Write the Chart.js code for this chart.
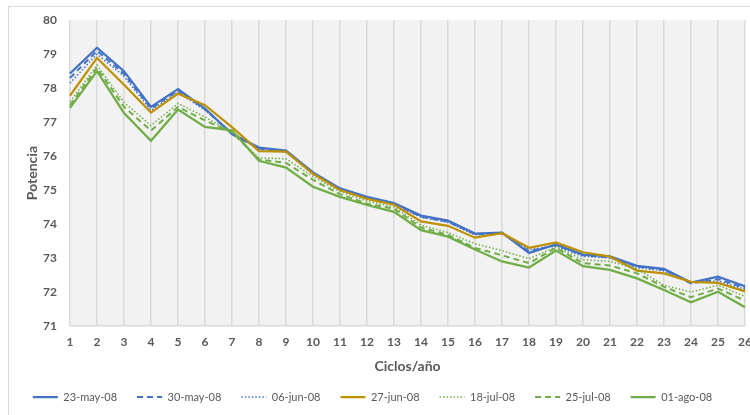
<!DOCTYPE html>
<html>
<head>
<meta charset="utf-8">
<script src="https://cdn.jsdelivr.net/npm/chart.js@4/dist/chart.umd.min.js"></script>
<style>
  html, body { margin: 0; padding: 0; width: 750px; height: 415px; overflow: hidden; background: #fff; }
  #frame { position: absolute; left: 8px; top: 6px; width: 820px; height: 470px; border: 1px solid #d9d9d9; box-sizing: border-box; }
  #c { position: absolute; left: 0; top: 0; }
</style>
</head>
<body>
<div id="frame"></div>
<canvas id="c" width="790" height="415"></canvas>
<script>
// Ciclos por año (eje X)
const ciclos = ['1','2','3','4','5','6','7','8','9','10','11','12','13','14','15','16','17','18','19','20','21','22','23','24','25','26'];

// Potencia medida en cada fecha
const may23 = [78.43, 79.19, 78.50, 77.45, 77.97, 77.40, 76.65, 76.25, 76.16, 75.52, 75.05, 74.80, 74.62, 74.25, 74.10, 73.72, 73.75, 73.15, 73.40, 73.10, 73.05, 72.77, 72.68, 72.28, 72.45, 72.17];
const may30 = [78.30, 79.10, 78.42, 77.40, 77.93, 77.38, 76.65, 76.22, 76.14, 75.50, 75.03, 74.78, 74.60, 74.22, 74.07, 73.70, 73.73, 73.20, 73.38, 73.08, 73.02, 72.75, 72.65, 72.25, 72.38, 72.12];
const jun06 = [78.15, 79.00, 78.35, 77.35, 77.88, 77.35, 76.70, 76.20, 76.12, 75.48, 75.02, 74.77, 74.58, 74.20, 74.05, 73.68, 73.75, 73.25, 73.35, 73.05, 73.00, 72.72, 72.62, 72.30, 72.32, 72.08];
const jun27 = [77.78, 78.89, 78.10, 77.28, 77.84, 77.50, 76.85, 76.15, 76.13, 75.48, 75.00, 74.74, 74.57, 74.08, 73.95, 73.60, 73.73, 73.30, 73.46, 73.17, 73.04, 72.63, 72.55, 72.30, 72.27, 72.02];
const jul18 = [77.60, 78.68, 77.58, 76.90, 77.55, 77.15, 76.70, 75.95, 75.92, 75.40, 74.95, 74.68, 74.50, 73.97, 73.75, 73.42, 73.22, 72.98, 73.33, 72.95, 72.90, 72.68, 72.20, 72.00, 72.20, 71.87];
const jul25 = [77.50, 78.60, 77.45, 76.75, 77.45, 77.05, 76.70, 75.90, 75.80, 75.30, 74.88, 74.60, 74.45, 73.90, 73.68, 73.30, 73.08, 72.85, 73.30, 72.85, 72.78, 72.55, 72.15, 71.85, 72.10, 71.75];
const ago01 = [77.42, 78.50, 77.27, 76.45, 77.37, 76.86, 76.76, 75.86, 75.66, 75.10, 74.80, 74.56, 74.36, 73.82, 73.63, 73.25, 72.90, 72.72, 73.22, 72.76, 72.65, 72.40, 72.06, 71.70, 72.01, 71.55];

const fechas = ['23-may-08', '30-may-08', '06-jun-08', '27-jun-08', '18-jul-08', '25-jul-08', '01-ago-08'];
const series = [may23, may30, jun06, jun27, jul18, jul25, ago01];

const AZUL = '#4472C4', ORO = '#BF9000', VERDE = '#70AD47';
const estilos = [
  { color: AZUL,  width: 2.25, dash: [] },
  { color: AZUL,  width: 2,    dash: [6, 4] },
  { color: AZUL,  width: 1.5,  dash: [1.5, 2] },
  { color: ORO,   width: 2.25, dash: [] },
  { color: VERDE, width: 1.5,  dash: [1.5, 2] },
  { color: VERDE, width: 2,    dash: [6, 4] },
  { color: VERDE, width: 2.25, dash: [] }
];

const FUENTE = 'Lato, "Open Sans", sans-serif';
const GRIS = '#595959';

// Fondo gris del área de trazado
const fondoPlot = {
  id: 'fondoPlot',
  beforeDraw(chart) {
    const { ctx, chartArea: a } = chart;
    ctx.save();
    ctx.fillStyle = '#f2f2f2';
    ctx.fillRect(a.left, a.top, a.right - a.left, a.bottom - a.top);
    ctx.restore();
  }
};

const datasets = series.map((vals, i) => ({
  label: fechas[i],
  data: vals,
  borderColor: estilos[i].color,
  backgroundColor: estilos[i].color,
  borderWidth: estilos[i].width,
  borderDash: estilos[i].dash,
  pointRadius: 0,
  tension: 0,
  fill: false,
  order: series.length - i
}));

// Muestras de la leyenda con el mismo trazo (ancho y guiones) que cada serie
function etiquetasLeyenda(chart) {
  const base = Chart.defaults.plugins.legend.labels.generateLabels(chart);
  return base.map(item => {
    const ds = chart.data.datasets[item.datasetIndex];
    item.lineDash = ds.borderDash;
    item.lineWidth = ds.borderWidth;
    item.strokeStyle = ds.borderColor;
    item.fillStyle = ds.borderColor;
    return item;
  });
}

new Chart(document.getElementById('c'), {
  type: 'line',
  data: { labels: ciclos, datasets },
  plugins: [fondoPlot],
  options: {
    responsive: false,
    animation: false,
    devicePixelRatio: 1,
    layout: { padding: { top: 20, right: 45, bottom: 2.5, left: 0 } },
    plugins: {
      tooltip: { enabled: false },
      legend: {
        position: 'bottom',
        labels: {
          usePointStyle: true,
          pointStyle: 'line',
          pointStyleWidth: 25,
          boxHeight: 11,
          padding: 20,
          color: GRIS,
          font: { family: FUENTE, size: 11 },
          generateLabels: etiquetasLeyenda,
          sort: (a, b) => a.datasetIndex - b.datasetIndex
        }
      }
    },
    scales: {
      x: {
        type: 'category',
        offset: false,
        grid: { display: true, color: '#d9d9d9', lineWidth: 1.5, drawTicks: false },
        border: { display: true, color: '#d9d9d9', width: 1.5 },
        ticks: { color: GRIS, font: { family: FUENTE, size: 12, weight: 'bold' }, padding: 9, maxRotation: 0, autoSkip: false },
        title: { display: true, text: 'Ciclos/año', color: GRIS, font: { family: FUENTE, size: 14, weight: 'bold', lineHeight: 1 }, padding: { top: 0, bottom: -1.5 } },
        afterFit(s) { s.height = 45.5; s.paddingLeft = 0; s.paddingRight = 0; }
      },
      y: {
        min: 71,
        max: 80,
        grid: { display: false, drawTicks: false },
        border: { display: false },
        ticks: { stepSize: 1, color: GRIS, font: { family: FUENTE, size: 12, weight: 'bold' }, padding: 13 },
        title: { display: true, text: 'Potencia', color: GRIS, font: { family: FUENTE, size: 14, weight: 'bold' }, padding: { top: 24, bottom: 0 } },
        afterFit(s) { s.width = 70; }
      }
    }
  }
});
</script>
</body>
</html>
